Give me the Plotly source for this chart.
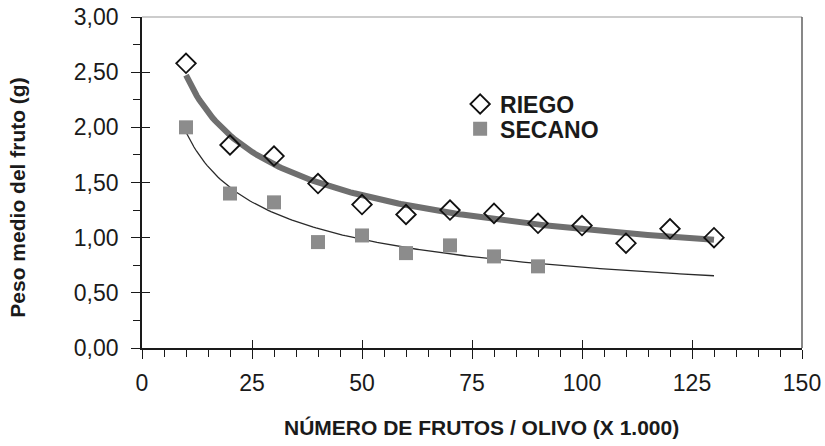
import numpy as np
import plotly.graph_objects as go

# ---- data ----
riego_x = [10, 20, 30, 40, 50, 60, 70, 80, 90, 100, 110, 120, 130]
riego_y = [2.58, 1.84, 1.74, 1.49, 1.30, 1.21, 1.25, 1.22, 1.13, 1.11, 0.95, 1.08, 1.00]
secano_x = [10, 20, 30, 40, 50, 60, 70, 80, 90]
secano_y = [2.00, 1.40, 1.32, 0.96, 1.02, 0.86, 0.93, 0.83, 0.74]
x_ticks = [0, 25, 50, 75, 100, 125, 150]
y_ticks = [0.0, 0.5, 1.0, 1.5, 2.0, 2.5, 3.0]
trend_x_range = [10, 130]

x_title = "NÚMERO DE FRUTOS / OLIVO (X 1.000)"
y_title = "Peso medio del fruto (g)"


def power_fit(xv, yv, xr):
    b, ln_a = np.polyfit(np.log(xv), np.log(yv), 1)
    xs = np.linspace(xr[0], xr[1], 200)
    return xs, np.exp(ln_a) * xs ** b


rx, ry = power_fit(riego_x, riego_y, trend_x_range)
sx, sy = power_fit(secano_x, secano_y, trend_x_range)

FONT = "Liberation Sans, Arial, sans-serif"
fig = go.Figure()

fig.add_trace(go.Scatter(x=rx, y=ry, mode="lines", line=dict(color="#6f6f6f", width=6),
                         showlegend=False, hoverinfo="skip"))
fig.add_trace(go.Scatter(x=sx, y=sy, mode="lines", line=dict(color="#2a2a2a", width=1.3),
                         showlegend=False, hoverinfo="skip"))
fig.add_trace(go.Scatter(x=riego_x, y=riego_y, mode="markers", name="RIEGO", legend="legend",
                         marker=dict(symbol="diamond-open", size=15, color="#111111",
                                     line=dict(width=1.8, color="#111111"))))
fig.add_trace(go.Scatter(x=secano_x, y=secano_y, mode="markers", name="SECANO", legend="legend2",
                         marker=dict(symbol="square", size=14, color="#8c8c8c",
                                     line=dict(width=0))))
# invisible helper trace so the overlaid tick axes are drawn
fig.add_trace(go.Scatter(x=riego_x, y=riego_y, xaxis="x2", yaxis="y2", mode="markers",
                         marker=dict(opacity=0), showlegend=False, hoverinfo="skip"))

axis_common = dict(showgrid=False, zeroline=False, linecolor="#1a1a1a", linewidth=1.6,
                   tickcolor="#1a1a1a", tickwidth=1.4, automargin=False,
                   tickfont=dict(family=FONT, size=23, color="#1a1a1a"))

legend_font = dict(family=FONT, size=23, color="#1a1a1a", weight="bold")

fig.update_layout(
    width=825, height=446,
    margin=dict(l=142, r=23, t=17, b=98, autoexpand=False),
    paper_bgcolor="white", plot_bgcolor="white",
    separators=",.",
    xaxis=dict(range=[0, 150], tickvals=x_ticks, tickformat="d", ticks="outside", ticklen=9,
               showline=True, ticklabelstandoff=5,
               minor=dict(dtick=5, ticks="outside", ticklen=7, tickcolor="#1a1a1a", tickwidth=1.3),
               **axis_common),
    yaxis=dict(range=[0, 3], tickvals=y_ticks, tickformat=".2f", ticks="outside", ticklen=9,
               showline=True, ticklabelstandoff=8,
               minor=dict(dtick=0.25, ticks="outside", ticklen=7, tickcolor="#1a1a1a", tickwidth=1.3),
               **axis_common),
    xaxis2=dict(range=[0, 150], tickvals=x_ticks, overlaying="x", anchor="y2", side="bottom",
                ticks="inside", ticklen=8, tickcolor="#1a1a1a", tickwidth=1.4, automargin=False,
                showticklabels=False, showgrid=False, zeroline=False, showline=False),
    yaxis2=dict(range=[0, 3], tickvals=y_ticks, overlaying="y", anchor="x2", side="left",
                ticks="inside", ticklen=8, tickcolor="#1a1a1a", tickwidth=1.4, automargin=False,
                showticklabels=False, showgrid=False, zeroline=False, showline=False),
    legend=dict(x=0.482, y=0.737, xanchor="left", yanchor="middle", bgcolor="rgba(0,0,0,0)",
                font=legend_font),
    legend2=dict(x=0.482, y=0.662, xanchor="left", yanchor="middle", bgcolor="rgba(0,0,0,0)",
                 font=legend_font),
    shapes=[
        dict(type="line", xref="paper", yref="paper", x0=0, x1=1, y0=1, y1=1,
             line=dict(color="#9a9a9a", width=1.2)),
        dict(type="line", xref="paper", yref="paper", x0=1, x1=1, y0=0, y1=1,
             line=dict(color="#555555", width=1.4)),
    ],
    annotations=[
        dict(text=x_title, xref="paper", yref="paper", x=0.514, y=-0.24, showarrow=False,
             xanchor="center", yanchor="middle",
             font=dict(family=FONT, size=21, color="#1a1a1a", weight="bold")),
        dict(text=y_title, xref="paper", yref="paper", x=-0.189, y=0.455, showarrow=False,
             textangle=-90, xanchor="center", yanchor="middle",
             font=dict(family=FONT, size=21, color="#1a1a1a", weight="bold")),
    ],
)

fig.write_html("out.html", config={"displayModeBar": False},
               post_script="document.body.style.margin='0';document.body.style.overflow='hidden';")
